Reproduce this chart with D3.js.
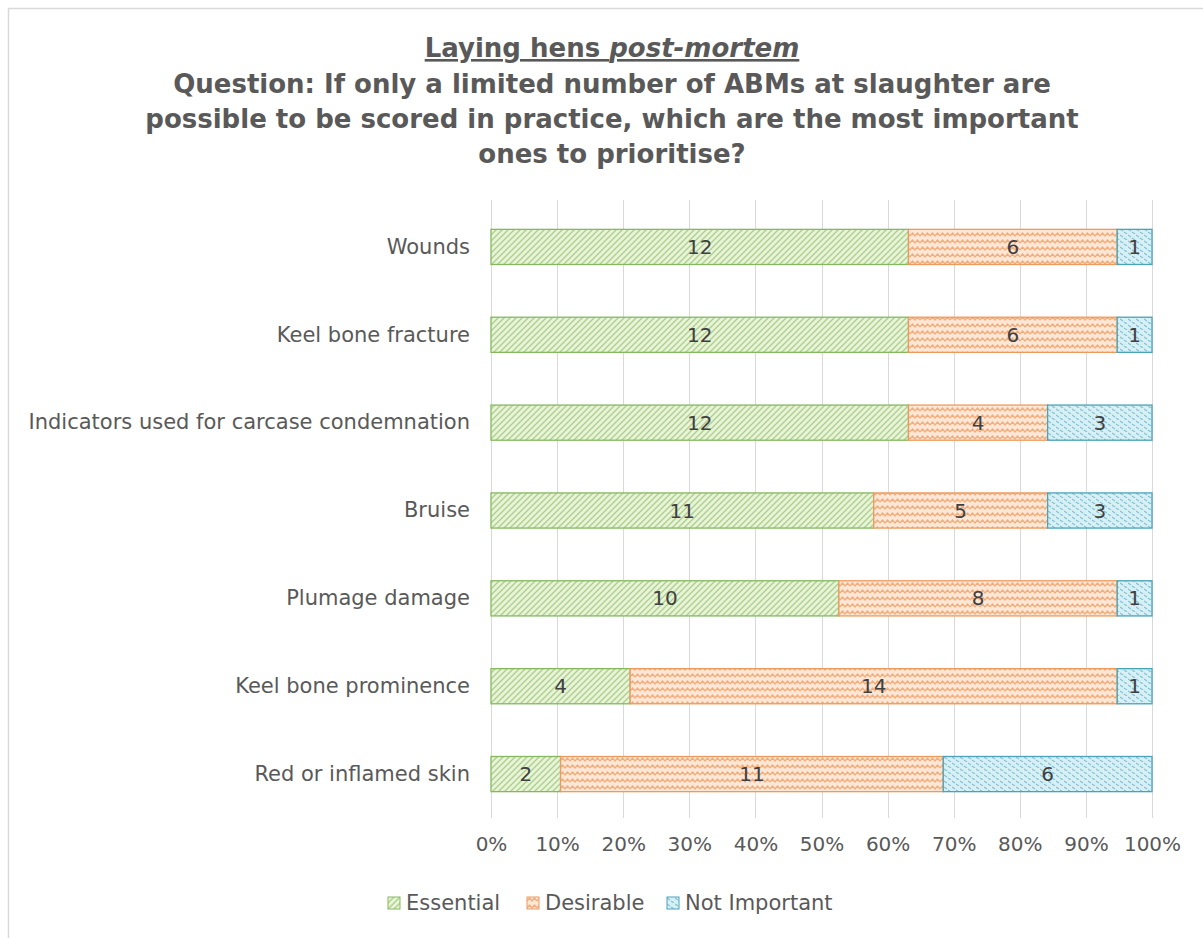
<!DOCTYPE html>
<html>
<head>
<meta charset="utf-8" />
<title>Laying hens post-mortem</title>
<script src="https://cdn.jsdelivr.net/npm/d3@7"></script>
<style>
  body { margin: 0; background: #fff; }
  svg { display: block; font-family: "DejaVu Sans", Verdana, sans-serif; }
</style>
</head>
<body>
<div id="chart"></div>
<script>
// chart values
var categories = ["Wounds", "Keel bone fracture", "Indicators used for carcase condemnation",
  "Bruise", "Plumage damage", "Keel bone prominence", "Red or inflamed skin"];
var seriesNames = ["Essential", "Desirable", "Not Important"];
var essential = [12, 12, 12, 11, 10, 4, 2];
var desirable = [6, 6, 4, 5, 8, 14, 11];
var notImportant = [1, 1, 3, 3, 1, 1, 6];
var tickValues = [0, 0.1, 0.2, 0.3, 0.4, 0.5, 0.6, 0.7, 0.8, 0.9, 1];

var W = 1203, H = 938;
var margin = {top: 203, left: 491, right: 51, bottom: 120};

var svg = d3.select("#chart").append("svg")
  .attr("width", W).attr("height", H);

// patterns for the three series
var defs = svg.append("defs");

var pEss = defs.append("pattern").attr("id", "pat-ess")
  .attr("patternUnits", "userSpaceOnUse").attr("width", 6).attr("height", 6);
pEss.append("rect").attr("width", 6).attr("height", 6).attr("fill", "#e8f3d9");
pEss.append("path").attr("d", "M-1,7 L7,-1 M-4,4 L4,-4 M2,10 L10,2")
  .attr("stroke", "#abd08a").attr("stroke-width", 1.3);

var pDes = defs.append("pattern").attr("id", "pat-des")
  .attr("patternUnits", "userSpaceOnUse").attr("width", 10).attr("height", 7);
pDes.append("rect").attr("width", 10).attr("height", 7).attr("fill", "#fce7d6");
pDes.append("path").attr("d", "M0,5 L2.5,2 L5,5 L7.5,2 L10,5")
  .attr("fill", "none").attr("stroke", "#f3ad7a").attr("stroke-width", 1.2);

var pNot = defs.append("pattern").attr("id", "pat-not")
  .attr("patternUnits", "userSpaceOnUse").attr("width", 8).attr("height", 6);
pNot.append("rect").attr("width", 8).attr("height", 6).attr("fill", "#d6f0f6");
pNot.append("path").attr("d", "M0,1 L3,3 M4,4 L7,6")
  .attr("fill", "none").attr("stroke", "#86c3d3").attr("stroke-width", 1.2);

var fills = ["url(#pat-ess)", "url(#pat-des)", "url(#pat-not)"];
var strokes = ["#86b861", "#ee9a5e", "#4aa3b8"];

// outer border of the chart area
svg.append("rect")
  .attr("x", 8.5).attr("y", 8.5).attr("width", W + 20).attr("height", H + 20)
  .attr("fill", "none").attr("stroke", "#d9d9d9").attr("stroke-width", 1.5);

// title
var title = svg.append("text").attr("text-anchor", "middle")
  .attr("fill", "#595959").attr("font-weight", "bold").attr("font-size", 26);
var t1 = title.append("tspan").attr("x", 612).attr("y", 57).attr("text-decoration", "underline");
t1.append("tspan").text("Laying hens ");
t1.append("tspan").attr("font-style", "italic").text("post-mortem");
title.append("tspan").attr("x", 612).attr("y", 93)
  .text("Question: If only a limited number of ABMs at slaughter are");
title.append("tspan").attr("x", 612).attr("y", 128)
  .text("possible to be scored in practice, which are the most important");
title.append("tspan").attr("x", 612).attr("y", 163)
  .text("ones to prioritise?");

// scales
var x = d3.scaleLinear().domain([0, 1]).range([margin.left, W - margin.right]);
var y = d3.scaleBand().domain(categories).range([margin.top, H - margin.bottom])
  .paddingInner(0.6).paddingOuter(0.3);

// gridlines
svg.append("g").selectAll("line").data(tickValues).join("line")
  .attr("x1", function(d) { return Math.round(x(d)) + 0.5; })
  .attr("x2", function(d) { return Math.round(x(d)) + 0.5; })
  .attr("y1", margin.top - 3).attr("y2", H - margin.bottom)
  .attr("stroke", "#d9d9d9").attr("stroke-width", 1);

// x axis labels
var xAxis = d3.axisBottom(x).tickValues(tickValues).tickSize(0).tickPadding(0)
  .tickFormat(d3.format(".0%"));
var gx = svg.append("g").attr("transform", "translate(0," + (H - margin.bottom + 27) + ")").call(xAxis);
gx.select(".domain").remove();
gx.selectAll("text").attr("font-size", 20).attr("fill", "#595959")
  .attr("font-family", "DejaVu Sans, sans-serif").attr("dy", "0.32em");

// y axis labels
var yAxis = d3.axisLeft(y).tickSize(0).tickPadding(21);
var gy = svg.append("g").attr("transform", "translate(" + margin.left + ",0)").call(yAxis);
gy.select(".domain").remove();
gy.selectAll("text").attr("font-size", 21).attr("fill", "#595959")
  .attr("font-family", "DejaVu Sans, sans-serif");

// stacked data
var rows = categories.map(function(c, i) {
  return {cat: c, "Essential": essential[i], "Desirable": desirable[i], "Not Important": notImportant[i]};
});
var stack = d3.stack().keys(seriesNames).offset(d3.stackOffsetExpand);
var stacked = stack(rows);

var layers = svg.append("g").selectAll("g").data(stacked).join("g");

layers.selectAll("rect").data(function(d) { return d; }).join("rect")
  .attr("x", function(d) { return x(d[0]); })
  .attr("y", function(d) { return y(d.data.cat); })
  .attr("width", function(d) { return x(d[1]) - x(d[0]); })
  .attr("height", y.bandwidth())
  .attr("fill", function() { return fills[seriesNames.indexOf(this.parentNode.__data__.key)]; })
  .attr("stroke", function() { return strokes[seriesNames.indexOf(this.parentNode.__data__.key)]; })
  .attr("stroke-width", 1.3);

// value labels
layers.each(function(layer) {
  d3.select(this).selectAll("text.val").data(layer).join("text")
    .attr("class", "val")
    .attr("x", function(d) { return (x(d[0]) + x(d[1])) / 2; })
    .attr("y", function(d) { return y(d.data.cat) + y.bandwidth() / 2; })
    .attr("dy", "0.35em")
    .attr("text-anchor", "middle")
    .attr("font-size", 20).attr("fill", "#404040")
    .text(function(d) { return d.data[layer.key]; });
});

// legend
var legendX = [388, 527, 667];
var legend = svg.append("g").selectAll("g").data(seriesNames).join("g")
  .attr("transform", function(d, i) { return "translate(" + legendX[i] + ",903)"; });
legend.append("rect")
  .attr("x", 0).attr("y", -6).attr("width", 12).attr("height", 12)
  .attr("fill", function(d, i) { return fills[i]; })
  .attr("stroke", function(d, i) { return strokes[i]; });
legend.append("text")
  .attr("x", 18).attr("dy", "0.35em")
  .attr("font-size", 21).attr("fill", "#595959")
  .text(function(d) { return d; });
</script>
</body>
</html>
